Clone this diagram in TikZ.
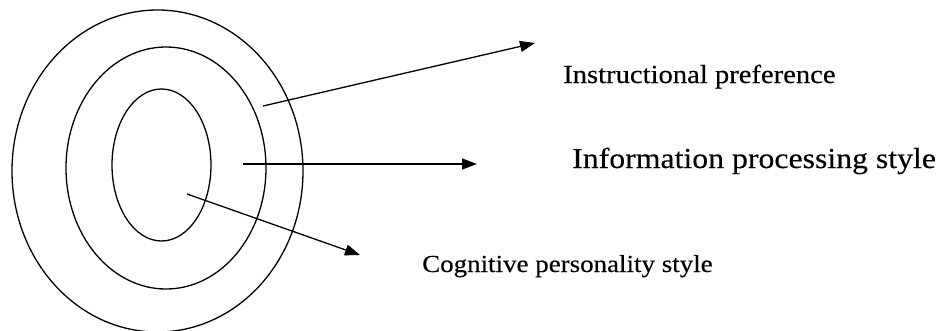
\documentclass[tikz,border=0pt]{standalone}
\usepackage{fontspec}
\setmainfont{Liberation Serif}
\newfontfamily\labelfont{Liberation Serif}[FakeBold=0.3]
\usetikzlibrary{shapes.geometric,arrows.meta}
\begin{document}
\begin{tikzpicture}[x=1pt,y=-1pt,
  ring/.style={draw, ellipse, line width=1.3pt, inner sep=0pt},
  pointer/.style={line width=1.3pt, -{Triangle[length=15pt,width=11pt]}},
  label/.style={anchor=base west, inner sep=0pt, xscale=1.1}]
  \useasboundingbox (0,0) rectangle (946,330);
  % nested layers
  \node[ring, minimum width=291pt, minimum height=322pt] (outer) at (157.5,171) {};
  \node[ring, minimum width=200pt, minimum height=242pt] (middle) at (166,168) {};
  \node[ring, minimum width=99pt, minimum height=152pt] (inner) at (161.5,165) {};
  % pointer ends
  \coordinate (s1) at (263,106);
  \coordinate (e1) at (535,43);
  \coordinate (s2) at (243,164);
  \coordinate (e2) at (477,164);
  \coordinate (s3) at (187,194);
  \coordinate (e3) at (360,255);
  \draw[pointer] (s1) -- (e1);
  \draw[pointer] (s2) -- (e2);
  \draw[pointer] (s3) -- (e3);
  % layer names
  \node[label, font=\labelfont\fontsize{26}{31}\selectfont] (instr) at (563,83) {Instructional preference};
  \node[label, font=\labelfont\fontsize{28.9}{34}\selectfont] (info) at (572,168) {Information processing style};
  \node[label, font=\labelfont\fontsize{24.5}{29}\selectfont] (cogn) at (422,272) {Cognitive personality style};
\end{tikzpicture}
\end{document}
